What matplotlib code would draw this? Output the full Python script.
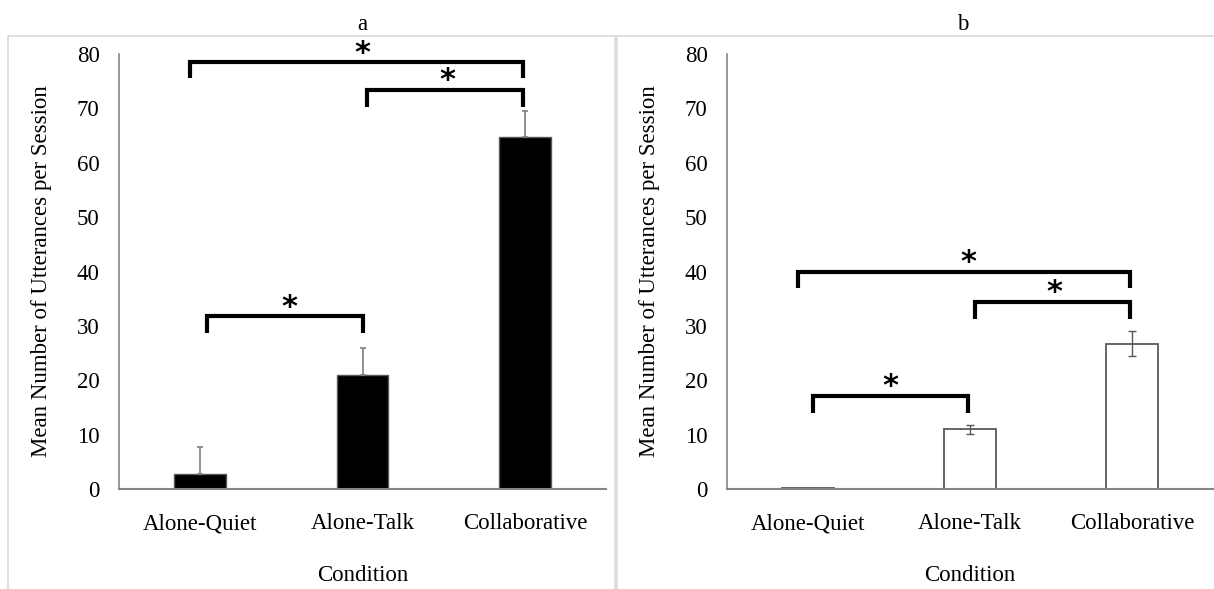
import matplotlib.pyplot as plt
from matplotlib.patches import Rectangle

plt.rcParams['font.family'] = ['Liberation Serif', 'DejaVu Serif']

conditions = ['Alone-Quiet', 'Alone-Talk', 'Collaborative']

# panel a: total utterances
means_a = [2.8, 21.0, 64.7]
err_a = [4.9, 5.0, 4.9]
# panel b
means_b = [0.1, 11.0, 26.7]
err_b = [0.0, 0.8, 2.3]

# significance brackets: (x left, x right, bar height, leg bottom, star x)
brackets_a = [(-0.06, 1.99, 78.5, 75.6, 1.0),
              (1.03, 1.99, 73.4, 70.2, 1.52),
              (0.04, 1.0, 31.8, 28.7, 0.55)]
brackets_b = [(-0.06, 1.99, 40.0, 37.0, 0.99),
              (1.03, 1.99, 34.4, 31.2, 1.52),
              (0.03, 0.99, 17.1, 14.0, 0.51)]

fig = plt.figure(figsize=(12.14, 5.89), dpi=100)

# panel frames
fig.patches.append(Rectangle((8/1214, -0.05), (615-8)/1214, 1.05-36/589,
                             transform=fig.transFigure, fill=False,
                             edgecolor='#d9d9d9', linewidth=1.2))
fig.patches.append(Rectangle((617/1214, -0.05), (1214-617+5)/1214, 1.05-36/589,
                             transform=fig.transFigure, fill=False,
                             edgecolor='#d9d9d9', linewidth=1.2))

ax1 = fig.add_axes([119/1214, 1-489/589, 487/1214, 435/589])
ax2 = fig.add_axes([727/1214, 1-489/589, 486/1214, 435/589])

x = range(len(conditions))

ax1.bar(x, means_a, width=0.32, color='black', edgecolor='#595959', linewidth=1,
        yerr=[[0, 0, 0], err_a], ecolor='#7f7f7f',
        error_kw=dict(elinewidth=1.2, capsize=2.5, capthick=1.2), zorder=2)
ax2.bar(x, means_b, width=0.32, color='white', edgecolor='#595959', linewidth=1.3,
        yerr=err_b, ecolor='#595959',
        error_kw=dict(elinewidth=1, capsize=3, capthick=1), zorder=2)

fs = 16.5
for ax, brackets, title, tx in [(ax1, brackets_a, 'a', 0.5), (ax2, brackets_b, 'b', 0.484)]:
    ax.set_xlim(-0.5, 2.5)
    ax.set_ylim(0, 80)
    ax.set_yticks(range(0, 81, 10))
    ax.set_xticks(list(x))
    ax.set_xticklabels(conditions, va='baseline')
    ax.tick_params(axis='y', length=0, pad=14, labelsize=fs)
    ax.tick_params(axis='x', length=0, pad=29, labelsize=fs)
    for s in ['top', 'right']:
        ax.spines[s].set_visible(False)
    ax.spines['left'].set_color('#868686')
    ax.spines['bottom'].set_color('#868686')
    ax.spines['left'].set_linewidth(1.2)
    ax.spines['bottom'].set_linewidth(1.5)
    ax.set_ylabel('Mean Number of Utterances per Session', fontsize=fs, labelpad=18)
    ax.set_xlabel('Condition', fontsize=fs, labelpad=22)
    ax.set_title(title, fontsize=fs, pad=17, x=tx)
    for x0, x1, top, leg, sx in brackets:
        ax.plot([x0, x0, x1, x1], [leg, top, top, leg], color='black', linewidth=3,
                solid_joinstyle='miter', solid_capstyle='butt', clip_on=False, zorder=3)
        ax.text(sx, top + 0.1, '*', ha='center', va='baseline', fontsize=22,
                fontweight='bold', family='DejaVu Sans', clip_on=False)

fig.savefig('out.png', dpi=100)
